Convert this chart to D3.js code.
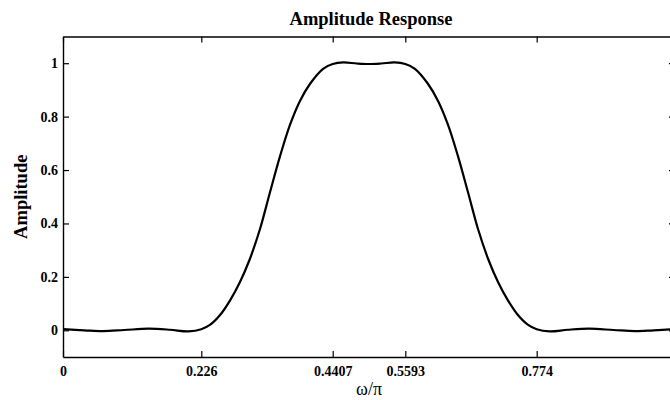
<!DOCTYPE html>
<html>
<head>
<meta charset="utf-8">
<script src="https://cdn.jsdelivr.net/npm/d3@7"></script>
<style>
  body { margin: 0; background: #fff; }
  svg { display: block; font-family: "Liberation Serif", "Times New Roman", serif; }
</style>
</head>
<body>
<div id="chart"></div>
<script>
// normalised frequency (omega / pi) and amplitude
const omega = [
  0.000, 0.035, 0.065, 0.100, 0.140, 0.175, 0.205, 0.226, 0.240, 0.257,
  0.273, 0.289, 0.305, 0.322, 0.338, 0.355, 0.371, 0.387, 0.404, 0.425,
  0.4407, 0.458, 0.480, 0.500, 0.520, 0.542, 0.5593, 0.575, 0.596, 0.613,
  0.629, 0.645, 0.662, 0.678, 0.695, 0.711, 0.727, 0.743, 0.760, 0.774,
  0.795, 0.825, 0.860, 0.900, 0.935, 0.965, 1.000
];
const amplitude = [
  0.004, 0.000, -0.003, 0.001, 0.006, 0.002, -0.004, 0.004, 0.020, 0.058,
  0.112, 0.180, 0.265, 0.380, 0.515, 0.655, 0.770, 0.858, 0.924, 0.979,
  0.997, 1.003, 0.999, 0.997, 0.999, 1.003, 0.997, 0.979, 0.924, 0.858,
  0.770, 0.655, 0.515, 0.380, 0.265, 0.180, 0.112, 0.058, 0.020, 0.004,
  -0.004, 0.002, 0.006, 0.001, -0.003, 0.000, 0.004
];
const xTicks = [0, 0.226, 0.4407, 0.5593, 0.774];
const xTickLabels = ["0", "0.226", "0.4407", "0.5593", "0.774"];
const yTicks = [0, 0.2, 0.4, 0.6, 0.8, 1];
const yTickLabels = ["0", "0.2", "0.4", "0.6", "0.8", "1"];

const width = 670, height = 400;
const m = { left: 63, right: 675, top: 36.5, bottom: 357 };

const data = omega.map((w, i) => ({ w: w, a: amplitude[i] }));

const svg = d3.select("#chart").append("svg")
  .attr("width", width).attr("height", height);

const x = d3.scaleLinear().domain([0, 1]).range([m.left, m.right]);
const y = d3.scaleLinear().domain([-0.1, 1.1]).range([m.bottom, m.top]);

// curve
const line = d3.line().x(d => x(d.w)).y(d => y(d.a)).curve(d3.curveCatmullRom.alpha(0.5));
svg.append("path").datum(data)
  .attr("fill", "none").attr("stroke", "#000").attr("stroke-width", 2.2)
  .attr("stroke-linejoin", "round")
  .attr("d", line);

// axes, ticks pointing inwards (matlab style)
const xi = d3.scaleOrdinal().domain(xTicks).range(xTickLabels);
const gx = svg.append("g").attr("transform", `translate(0,${m.bottom})`)
  .call(d3.axisBottom(x).tickValues(xTicks).tickFormat(d => xi(d))
    .tickSizeInner(-6).tickSizeOuter(0).tickPadding(9));

const gxTop = svg.append("g").attr("transform", `translate(0,${m.top})`)
  .call(d3.axisTop(x).tickValues(xTicks).tickFormat("")
    .tickSizeInner(-6).tickSizeOuter(0));

const yi = d3.scaleOrdinal().domain(yTicks).range(yTickLabels);
const gy = svg.append("g").attr("transform", `translate(${m.left},0)`)
  .call(d3.axisLeft(y).tickValues(yTicks).tickFormat(d => yi(d))
    .tickSizeInner(-6).tickSizeOuter(0).tickPadding(5));

const gyRight = svg.append("g").attr("transform", `translate(${m.right},0)`)
  .call(d3.axisRight(y).tickValues(yTicks).tickFormat("")
    .tickSizeInner(-6).tickSizeOuter(0));

[gx, gxTop, gy, gyRight].forEach(g => {
  g.select(".domain").attr("stroke", "#000").attr("stroke-width", 1.4);
  g.selectAll(".tick line").attr("stroke", "#000").attr("stroke-width", 1.2);
  g.selectAll(".tick text")
    .attr("fill", "#000")
    .style("font-family", "'Liberation Serif', 'Times New Roman', serif")
    .style("font-size", "14px").style("font-weight", "bold");
});

// labels
svg.append("text")
  .attr("x", (m.left + m.right) / 2 + 2).attr("y", 25)
  .attr("text-anchor", "middle")
  .style("font-size", "18.5px").style("font-weight", "bold")
  .text("Amplitude Response");

svg.append("text")
  .attr("transform", `translate(27,${(m.top + m.bottom) / 2}) rotate(-90)`)
  .attr("text-anchor", "middle")
  .style("font-size", "18.5px").style("font-weight", "bold")
  .text("Amplitude");

svg.append("text")
  .attr("x", (m.left + m.right) / 2).attr("y", 395)
  .attr("text-anchor", "middle")
  .style("font-size", "18px")
  .text("ω/π");
</script>
</body>
</html>
